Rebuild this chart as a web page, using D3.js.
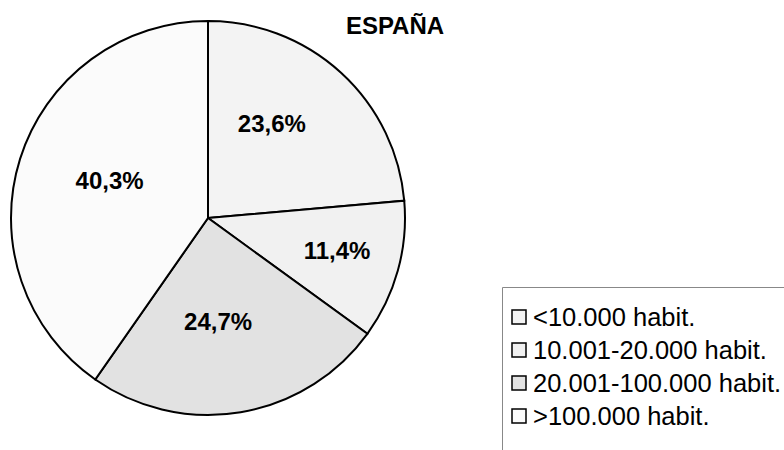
<!DOCTYPE html>
<html>
<head>
	<meta charset="utf-8">
	<title>España</title>
	<script src="https://d3js.org/d3.v7.min.js"></script>
	<style type="text/css">
		html, body {
			margin: 0;
			padding: 0;
			background: #fff;
		}
		svg {
			display: block;
			font-family: "Liberation Sans", Arial, sans-serif;
		}
		.slice {
			stroke: #000;
			stroke-width: 2;
		}
		.label {
			font-size: 24px;
			font-weight: bold;
			fill: #000;
		}
		.title {
			font-size: 24px;
			font-weight: bold;
		}
		.legend text {
			font-size: 25.5px;
		}
	</style>
</head>
<body>
<div id="chart"></div>

<script>
	// data
	var categories = ["<10.000 habit.", "10.001-20.000 habit.", "20.001-100.000 habit.", ">100.000 habit."];
	var values = [23.6, 11.4, 24.7, 40.3];
	var labels = ["23,6%", "11,4%", "24,7%", "40,3%"];

	var width = 784, height = 450;
	var cx = 208, cy = 218, radius = 197;

	// label placement: share of the radius, and a small turn (degrees) off the slice middle
	var labelRadius = [0.58, 0.675, 0.53, 0.535];
	var labelTurn = [-8.5, -1.5, 4, 3.5];

	var color = d3.scaleOrdinal()
		.domain(categories)
		.range(["#f3f3f3", "#f1f1f1", "#e2e2e2", "#fbfbfb"]);

	var svg = d3.select("#chart").append("svg")
		.attr("width", width)
		.attr("height", height);

	var pie = d3.pie()
		.sort(null)
		.value(function(d) { return d.value; });

	var arc = d3.arc()
		.innerRadius(0)
		.outerRadius(radius);

	var rows = categories.map(function(c, i) {
		return {name: c, value: values[i], label: labels[i], lr: labelRadius[i], turn: labelTurn[i]};
	});

	var g = svg.append("g")
		.attr("transform", "translate(" + cx + "," + cy + ")");

	var slices = g.selectAll(".slice")
		.data(pie(rows))
		.enter();

	slices.append("path")
		.attr("class", "slice")
		.attr("d", arc)
		.style("fill", function(d) { return color(d.data.name); });

	slices.append("text")
		.attr("class", "label")
		.attr("text-anchor", "middle")
		.attr("dy", "0.35em")
		.attr("transform", function(d) {
			var r = radius * d.data.lr;
			var a = (d.startAngle + d.endAngle) / 2 + d.data.turn * Math.PI / 180;
			return "translate(" + (r * Math.sin(a)) + "," + (-r * Math.cos(a)) + ")";
		})
		.text(function(d) { return d.data.label; });

	svg.append("text")
		.attr("class", "title")
		.attr("x", 395)
		.attr("y", 34)
		.attr("text-anchor", "middle")
		.text("ESPAÑA");

	// legend (box runs off the right and bottom edges)
	var legend = svg.append("g")
		.attr("class", "legend")
		.attr("transform", "translate(502,287)");

	legend.append("path")
		.attr("d", "M0.5," + (height - 287) + "V0.5H" + (width - 502))
		.style("fill", "none")
		.style("stroke", "#888")
		.style("stroke-width", 1);

	var item = legend.selectAll(".item")
		.data(categories)
		.enter().append("g")
		.attr("class", "item")
		.attr("transform", function(d, i) { return "translate(0," + (30 + i * 33) + ")"; });

	item.append("rect")
		.attr("x", 10)
		.attr("y", -7)
		.attr("width", 14)
		.attr("height", 14)
		.style("fill", function(d) { return color(d); })
		.style("stroke", "#000")
		.style("stroke-width", 1.5);

	item.append("text")
		.attr("x", 31)
		.attr("dy", "0.35em")
		.text(function(d) { return d; });
</script>

</body>
</html>
